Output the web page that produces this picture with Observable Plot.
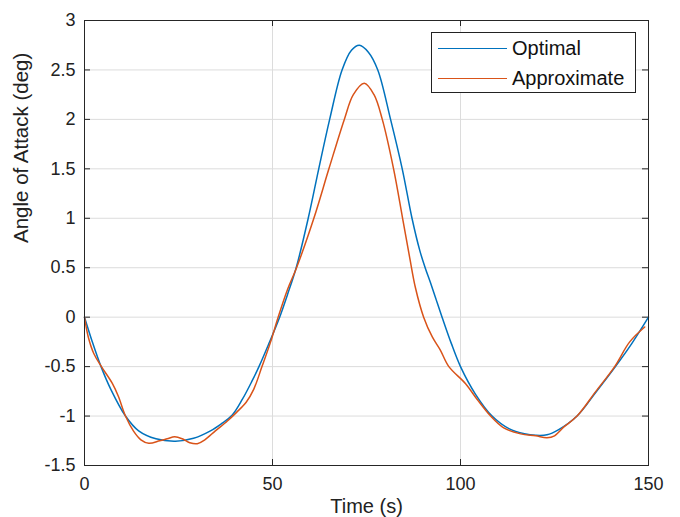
<!DOCTYPE html>
<html>
<head>
<meta charset="utf-8">
<script src="https://cdn.jsdelivr.net/npm/d3@7"></script>
<script src="https://cdn.jsdelivr.net/npm/@observablehq/plot@0.6"></script>
<style>
  html, body { margin: 0; padding: 0; background: #fff; }
  #wrap { position: relative; width: 680px; height: 517px; font-family: "Liberation Sans", Arial, sans-serif; }
  #legend { position: absolute; left: 431px; top: 32px; width: 203px; height: 59px; border: 1px solid #222; background: #fff; }
  .lg-row { position: absolute; left: 0; height: 30px; }
  .lg-line { position: absolute; left: 6px; width: 69px; height: 0; border-top: 1.5px solid; }
  .lg-text { position: absolute; left: 80px; font-size: 20px; color: #111; white-space: nowrap; line-height: 20px; }
</style>
</head>
<body>
<div id="wrap"></div>
<script>
// Series names and colours
const seriesNames = ["Optimal", "Approximate"];
const seriesColors = ["#0072BD", "#D95319"];

// Optimal (blue) time / value
const optimalT = [0, 2, 4.4, 7, 10.9, 14.4, 19, 24.2, 29, 33.5, 36.5, 39.3, 42, 44.5, 46.4, 49, 51.9, 54, 56.3, 59.5, 62.3, 65.2, 68.5, 71, 73.1, 75.5, 78, 81.4, 84.5, 87.1, 89.2, 90.6, 92, 93.5, 95.1, 97.5, 100, 104, 108.4, 113, 117, 120, 123, 126, 131, 136, 141.2, 145.5, 150];
const optimalV = [0, -0.24, -0.5, -0.73, -1.0, -1.15, -1.23, -1.254, -1.225, -1.15, -1.075, -0.99, -0.83, -0.65, -0.5, -0.27, 0, 0.23, 0.5, 1.0, 1.5, 2.0, 2.5, 2.7, 2.75, 2.68, 2.5, 2.0, 1.5, 1.0, 0.67, 0.5, 0.35, 0.18, 0, -0.26, -0.5, -0.78, -1.0, -1.13, -1.18, -1.195, -1.19, -1.14, -1.0, -0.76, -0.5, -0.27, 0];

// Approximate (orange) time / value
const approxT = [0, 1, 2.5, 4.5, 7.4, 9, 10.9, 13, 15, 17.1, 20, 22, 24, 26, 28, 30, 32, 34.8, 38, 40.5, 43, 45, 47.2, 49.5, 51.5, 54, 56.4, 61, 65, 69.1, 71.5, 74.4, 77, 79.2, 82.2, 84.6, 86.5, 88, 90.2, 92.5, 94.6, 96.9, 101.3, 104.4, 108, 111.5, 116, 120, 123, 125, 127.5, 131, 136, 141, 145, 149];
const approxV = [0, -0.2, -0.37, -0.5, -0.67, -0.8, -1.0, -1.15, -1.24, -1.275, -1.25, -1.23, -1.21, -1.23, -1.27, -1.28, -1.24, -1.15, -1.05, -0.96, -0.86, -0.73, -0.5, -0.25, 0, 0.28, 0.5, 1.0, 1.5, 2.0, 2.25, 2.365, 2.25, 2.0, 1.5, 1.0, 0.6, 0.3, 0, -0.2, -0.33, -0.5, -0.67, -0.83, -1.0, -1.12, -1.18, -1.2, -1.22, -1.2, -1.11, -1.0, -0.75, -0.5, -0.25, -0.1];

// Tick values
const xTicks = [0, 50, 100, 150];
const yTicks = [-1.5, -1, -0.5, 0, 0.5, 1, 1.5, 2, 2.5, 3];

// Axis titles
const xLabel = "Time (s)";
const yLabel = "Angle of Attack (deg)";

const optimal = optimalT.map((t, i) => ({t, v: optimalV[i]}));
const approx = approxT.map((t, i) => ({t, v: approxV[i]}));

const W = 680, H = 517;
const mL = 84, mR = 32, mT = 20, mB = 52;
const pw = W - mL - mR, ph = H - mT - mB;
const tickLen = 6;
const gridColor = "#dcdcdc";
const axisColor = "#262626";

const chart = Plot.plot({
  width: W,
  height: H,
  marginLeft: mL,
  marginRight: mR,
  marginTop: mT,
  marginBottom: mB,
  style: {fontFamily: "Liberation Sans, Arial, sans-serif", fontSize: "18px", color: "#222", background: "#fff"},
  x: {domain: [0, 150]},
  y: {domain: [-1.5, 3]},
  marks: [
    Plot.gridX(xTicks, {stroke: gridColor, strokeOpacity: 1}),
    Plot.gridY(yTicks, {stroke: gridColor, strokeOpacity: 1}),
    // inward ticks on all four sides
    Plot.tickY(yTicks, {y: d => d, stroke: axisColor, insetRight: pw - tickLen}),
    Plot.tickY(yTicks, {y: d => d, stroke: axisColor, insetLeft: pw - tickLen}),
    Plot.tickX(xTicks, {x: d => d, stroke: axisColor, insetTop: ph - tickLen}),
    Plot.tickX(xTicks, {x: d => d, stroke: axisColor, insetBottom: ph - tickLen}),
    Plot.axisX(xTicks, {tickSize: 0, tickPadding: 12, tickFormat: d => String(d), label: null, fontSize: 18, fill: "#222"}),
    Plot.axisY(yTicks, {tickSize: 0, tickPadding: 9, tickFormat: d => String(d), label: null, fontSize: 18, fill: "#222"}),
    Plot.line(optimal, {x: "t", y: "v", stroke: seriesColors[0], strokeWidth: 1.5, curve: "catmull-rom"}),
    Plot.line(approx, {x: "t", y: "v", stroke: seriesColors[1], strokeWidth: 1.5, curve: "catmull-rom"}),
    Plot.frame({stroke: axisColor, strokeWidth: 1}),
    Plot.text([xLabel], {text: d => d, frameAnchor: "bottom", dy: 41, fontSize: 20, fill: "#222", lineAnchor: "middle"}),
    Plot.text([yLabel], {text: d => d, frameAnchor: "left", dx: -63, rotate: -90, fontSize: 20.5, fill: "#222", lineAnchor: "middle"})
  ]
});

const wrap = document.getElementById("wrap");
wrap.appendChild(chart);

// Legend overlay (top-right inside the axes)
const legend = document.createElement("div");
legend.id = "legend";
seriesNames.forEach((name, i) => {
  const row = document.createElement("div");
  row.className = "lg-row";
  row.style.top = (i * 30 + 1) + "px";
  const line = document.createElement("div");
  line.className = "lg-line";
  line.style.top = "14px";
  line.style.borderTopColor = seriesColors[i];
  const txt = document.createElement("div");
  txt.className = "lg-text";
  txt.style.top = "4px";
  txt.textContent = name;
  row.appendChild(line);
  row.appendChild(txt);
  legend.appendChild(row);
});
wrap.appendChild(legend);
</script>
</body>
</html>
